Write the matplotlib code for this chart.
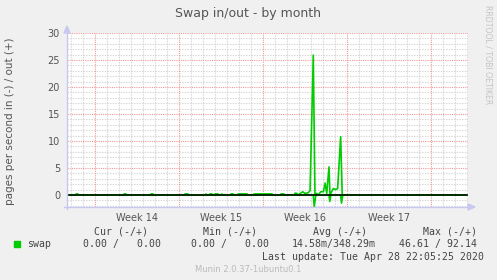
import numpy as np
import matplotlib
matplotlib.use("Agg")
import matplotlib.pyplot as plt

# time in days, 0 = start of Week 14
weeks = ["Week 14", "Week 15", "Week 16", "Week 17"]
week_mid = [3.5, 10.5, 17.5, 24.5]

# pages/s out (+)
out_t = [-2.33, -1.62, -1.58, -1.42, -1.38, 2.38, 2.42, 2.58, 2.62, 4.63, 4.67, 4.83, 4.87,
         7.46, 7.5, 7.75, 7.79, 9.21, 9.25, 9.29, 9.54, 9.58, 9.75, 9.79, 9.96, 10.0, 10.25, 10.29,
         10.54, 10.58, 10.62, 11.29, 11.33, 11.5, 11.54, 11.88, 11.92, 12.67, 12.71,
         13.21, 13.25, 14.75, 14.79, 15.46, 15.5, 15.75, 15.79,
         16.63, 16.67, 16.83, 16.92, 17.31, 17.5, 17.75, 17.92, 18.19, 18.33, 18.47, 18.61,
         18.81, 19.03, 19.17, 19.31, 19.5, 19.58, 19.72, 19.86, 20.06, 20.22, 20.47, 20.6,
         20.83, 30.9]
out_v = [0, 0, 0.2, 0.2, 0, 0, 0.2, 0.2, 0, 0, 0.2, 0.2, 0,
         0, 0.2, 0.2, 0, 0, 0.2, 0, 0, 0.2, 0.2, 0, 0, 0.2, 0.2, 0,
         0, 0.2, 0, 0, 0.2, 0.2, 0, 0, 0.2, 0.2, 0,
         0, 0.2, 0.2, 0, 0, 0.2, 0.2, 0,
         0, 0.35, 0.3, 0, 0.6, 0.3, 0.4, 0.8, 25.9, 0, 0.3, 0,
         0.6, 0.6, 2.2, 0.3, 5.2, 0, 0.6, 1.2, 1.0, 1.2, 10.8, 0,
         0, 0]

# pages/s in (-)
in_t = [-2.33, 18.19, 18.27, 18.4, 19.5, 19.56, 19.66, 20.47, 20.54, 20.65, 30.9]
in_v = [0, 0, -2.2, 0, 0, -1.2, 0, 0, -1.5, 0, 0]

legend_cols = ["Cur (-/+)", "Min (-/+)", "Avg (-/+)", "Max (-/+)"]
legend_vals = ["0.00 /   0.00", "0.00 /   0.00", "14.58m/348.29m", "46.61 / 92.14"]

W, H = 497, 280
fig = plt.figure(figsize=(W / 100, H / 100), dpi=100, facecolor="#f0f0f0")
ax = fig.add_axes([67 / W, 73 / H, 401 / W, 174 / H])
ax.set_facecolor("white")
ax.set_xlim(-2.33, 31.08)
ax.set_ylim(-2.22, 30)

# grid
for d in range(-2, 32):
    if d % 7 == 0:
        continue
    ax.axvline(d, color="#d4d4d4", lw=0.8, ls=(0, (1.2, 1.2)), zorder=1)
for y in range(-2, 31):
    if y % 5 == 0:
        continue
    ax.axhline(y, color="#d4d4d4", lw=0.8, ls=(0, (1.2, 1.2)), zorder=1)
for d in range(0, 32, 7):
    ax.axvline(d, color="#f09a9a", lw=0.8, ls=(0, (1, 1)), zorder=2)
for y in range(5, 31, 5):
    ax.axhline(y, color="#f09a9a", lw=0.8, ls=(0, (1, 1)), zorder=2)

ax.plot(out_t, out_v, color="#00cc00", lw=1.2, zorder=3)
ax.plot(in_t, in_v, color="#00cc00", lw=1.2, zorder=3)
ax.axhline(0, color="black", lw=1.1, zorder=4)

for s in ax.spines.values():
    s.set_visible(False)
ax.set_yticks(range(0, 31, 5))
ax.set_xticks(week_mid)
ax.set_xticklabels(weeks)
ax.tick_params(length=0, labelsize=7, labelcolor="#555555")
ax.tick_params(axis="y", pad=5)
ax.tick_params(axis="x", pad=4)

# axis arrows
ac = "#c8c8f0"
fig.add_artist(plt.Line2D([67 / W, 67 / W], [71 / H, 250 / H], color=ac, lw=1))
fig.add_artist(plt.Line2D([64 / W, 470 / W], [73 / H, 73 / H], color=ac, lw=1))
fig.add_artist(plt.Polygon([[64 / W, 247 / H], [70 / W, 247 / H], [67 / W, 254 / H]],
                           closed=True, color=ac, transform=fig.transFigure))
fig.add_artist(plt.Polygon([[468 / W, 70 / H], [468 / W, 76 / H], [475 / W, 73 / H]],
                           closed=True, color=ac, transform=fig.transFigure))

fig.text(248 / W, 1 - 13 / H, "Swap in/out - by month", ha="center", va="center",
         fontsize=9, color="#555555")
fig.text(10 / W, 1 - 121 / H, "pages per second in (-) / out (+)", rotation=90,
         ha="center", va="center", fontsize=7.5, color="#555555")
fig.text(488 / W, 1 - 5 / H, "RRDTOOL / TOBI OETIKER", rotation=270, ha="center",
         va="top", fontsize=5.6, color="#c4c4c4")

mono = "DejaVu Sans Mono"
lc = "#444444"
for x, t in zip([94, 203, 313, 423], legend_cols):
    fig.text(x / W, 1 - 232 / H, t, ha="left", va="center", family=mono, fontsize=7.1, color=lc)
fig.add_artist(plt.Rectangle((14 / W, 1 - 247 / H), 6 / W, 6 / H, color="#00cc00",
                             transform=fig.transFigure))
fig.text(27 / W, 1 - 244 / H, "swap", ha="left", va="center", family=mono, fontsize=7.1, color=lc)
for x, t in zip([83, 191, 292, 399], legend_vals):
    fig.text(x / W, 1 - 244 / H, t, ha="left", va="center", family=mono, fontsize=7.1, color=lc)
fig.text(262 / W, 1 - 257 / H, "Last update: Tue Apr 28 22:05:25 2020", ha="left",
         va="center", family=mono, fontsize=7.1, color=lc)
fig.text(248 / W, 1 - 269 / H, "Munin 2.0.37-1ubuntu0.1", ha="center", va="center",
         fontsize=6, color="#bbbbbb")

fig.savefig("out.png", dpi=100, facecolor=fig.get_facecolor())
